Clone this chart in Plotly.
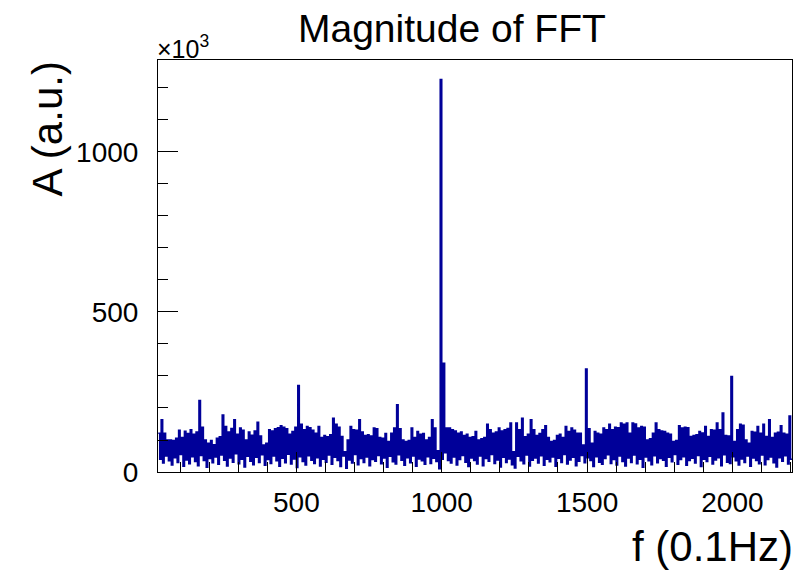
import plotly.graph_objects as go

# FFT magnitude (in units of 10^3), binned every 10 (0.1 Hz) from f = 25 to 2205
bin_start = 25
bin_width = 10

# upper envelope of each bin
amp_high = [
    121, 163, 121, 100, 100, 98, 105, 130, 108, 127, 120, 132, 118, 125, 223, 140, 100, 90, 98, 85,
    105, 110, 178, 142, 125, 136, 163, 118, 137, 130, 100, 125, 115, 128, 155, 112, 84, 90, 132, 128,
    135, 138, 144, 140, 135, 118, 126, 140, 270, 149, 132, 142, 138, 130, 121, 142, 108, 114, 110, 116,
    168, 149, 140, 111, 63, 100, 142, 132, 130, 163, 125, 114, 116, 112, 137, 135, 108, 105, 120, 95,
    121, 137, 210, 135, 100, 95, 98, 137, 108, 126, 118, 120, 100, 108, 163, 137, 66, 1226, 340, 137,
    137, 132, 128, 121, 125, 114, 118, 108, 110, 126, 100, 104, 108, 149, 132, 121, 125, 137, 128, 132,
    136, 153, 63, 153, 132, 168, 110, 118, 163, 132, 114, 120, 132, 144, 108, 95, 98, 114, 118, 108,
    142, 126, 137, 130, 121, 121, 84, 322, 135, 90, 126, 121, 118, 137, 132, 149, 132, 140, 138, 153,
    149, 153, 121, 153, 150, 137, 142, 140, 100, 104, 121, 153, 132, 128, 126, 121, 118, 95, 98, 144,
    137, 140, 138, 111, 114, 116, 126, 122, 142, 111, 132, 130, 153, 132, 184, 114, 112, 298, 95, 132,
    149, 146, 100, 90, 126, 124, 142, 121, 149, 111, 163, 108, 121, 124, 144, 121, 118, 175,
]

# lower envelope of each bin
amp_low = [
    40, 28, 50, 35, 22, 45, 30, 55, 18, 38, 26, 48, 33, 20, 52, 36, 15, 42, 29, 47,
    24, 53, 37, 19, 44, 31, 57, 26, 40, 16, 49, 34, 23, 46, 30, 54, 21, 39, 27, 50,
    35, 18, 43, 29, 56, 25, 41, 14, 48, 33, 22, 51, 37, 27, 45, 19, 40, 31, 53, 24,
    46, 36, 17, 50, 12, 38, 28, 55, 23, 42, 30, 47, 20, 39, 34, 52, 26, 44, 15, 49,
    32, 25, 54, 37, 21, 45, 29, 50, 18, 41, 35, 24, 48, 27, 43, 33, 10, 40, 60, 36,
    28, 47, 22, 39, 52, 31, 17, 44, 36, 25, 50, 20, 42, 34, 55, 27, 38, 16, 46, 30,
    41, 23, 13, 49, 35, 26, 53, 19, 37, 44, 28, 51, 21, 40, 32, 47, 18, 43, 30, 55,
    25, 38, 46, 20, 34, 52, 29, 45, 36, 17, 48, 31, 24, 42, 54, 27, 39, 22, 50, 33,
    19, 44, 30, 53, 26, 40, 15, 47, 35, 23, 51, 29, 42, 37, 18, 46, 32, 55, 24, 39,
    48, 21, 36, 43, 28, 52, 17, 40, 33, 49, 25, 38, 45, 20, 54, 31, 27, 48, 35, 22,
    41, 30, 50, 18, 44, 36, 26, 53, 23, 39, 47, 29, 16, 45, 34, 51, 25, 40,
]

x_ticks = [500, 1000, 1500, 2000]
y_ticks = [0, 500, 1000]

xs, ys = [], []
for k, (hi, lo) in enumerate(zip(amp_high, amp_low)):
    f = bin_start + k * bin_width
    xs += [f, f + bin_width / 2]
    ys += [hi, lo]
xs.append(bin_start + len(amp_high) * bin_width)
ys.append(amp_low[-1])

x_min = 24
x_max = bin_start + len(amp_high) * bin_width
y_max = 1.05 * max(amp_high)

FONT = "Liberation Sans, Arial, Helvetica, sans-serif"

fig = go.Figure()
fig.add_trace(go.Scatter(
    x=xs, y=ys, mode="lines", line=dict(color="#000099", width=1.6, shape="hv"),
    hoverinfo="skip", showlegend=False,
))

axis_common = dict(
    showline=True, linecolor="black", linewidth=1, mirror=True,
    showgrid=False, zeroline=False,
    ticks="inside", ticklen=20, tickwidth=1, tickcolor="black",
    tickfont=dict(family=FONT, size=28, color="black"),
)

fig.update_xaxes(
    range=[x_min, x_max], tickvals=x_ticks, ticktext=[str(v) for v in x_ticks],
    minor=dict(dtick=100, tick0=0, ticks="inside", ticklen=10, tickcolor="black", tickwidth=1),
    ticklabelstandoff=5,
    **axis_common,
)
fig.update_yaxes(
    range=[0, y_max], tickvals=y_ticks, ticktext=[str(v) for v in y_ticks],
    minor=dict(dtick=100, tick0=0, ticks="inside", ticklen=10, tickcolor="black", tickwidth=1),
    ticklabelstandoff=13,
    **axis_common,
)

L, R, T, B = 158, 5, 60, 99
W, H = 797, 571
pw, ph = W - L - R, H - T - B

def px_x(p):
    return (p - L) / pw

def px_y(p):
    return (H - B - p) / ph

annotations = [
    dict(text="Magnitude of FFT", x=px_x(452), y=px_y(28), xanchor="center", yanchor="middle",
         font=dict(family=FONT, size=39, color="black")),
    dict(text="A (a.u.)", x=px_x(47), y=1.0, xanchor="center", yanchor="top", textangle=-90,
         font=dict(family=FONT, size=42, color="black")),
    dict(text="f (0.1Hz)", x=px_x(795), y=px_y(546), xanchor="right", yanchor="middle",
         font=dict(family=FONT, size=42, color="black")),
    dict(text="×10<sup>3</sup>", x=px_x(155), y=px_y(47), xanchor="left", yanchor="middle",
         font=dict(family=FONT, size=25, color="black")),
]
for a in annotations:
    a.update(xref="paper", yref="paper", showarrow=False)

fig.update_layout(
    width=W, height=H, autosize=False,
    margin=dict(l=L, r=R, t=T, b=B, pad=0, autoexpand=False),
    paper_bgcolor="white", plot_bgcolor="white",
    annotations=annotations,
)

fig.write_html("out.html", config={"displayModeBar": False},
               post_script="document.body.style.margin='0';")
